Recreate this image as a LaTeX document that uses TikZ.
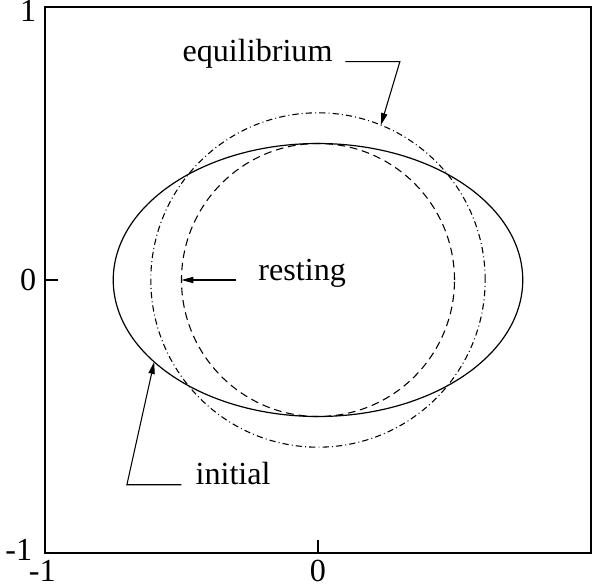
\documentclass[tikz,border=0pt]{standalone}
\usepackage{fontspec}
\setmainfont{Liberation Serif}
\usetikzlibrary{arrows.meta,positioning,calc}
\tikzset{
  frame/.style={draw=black,line width=.6pt},
  tick/.style={draw=black,line width=.5pt},
  ticklabel/.style={font=\fontsize{13.4}{15}\selectfont,inner sep=0pt},
  lbl/.style={font=\fontsize{13.4}{15}\selectfont,inner sep=0pt},
  initialcurve/.style={draw=black,line width=.5pt},
  restingcurve/.style={draw=black,line width=.45pt,dash pattern=on 3.2pt off 2pt},
  equilcurve/.style={draw=black,line width=.45pt,dash pattern=on 2.6pt off 1.3pt on .4pt off 1.3pt},
  pointer/.style={-{Triangle[length=5pt,width=2.6pt]},draw=black,line width=.45pt}
}
\begin{document}
\begin{tikzpicture}[x=4cm,y=4cm]
      \useasboundingbox (-1.1648,-1.1099) rectangle (1.0147,1.0256);
      % frame and ticks
      \draw[frame] (-1,-1) rectangle (1,1);
      \draw[tick] (-1,0) -- (-0.952,0);
      \draw[tick] (0,-1) -- (0,-0.952);
      \node[ticklabel,anchor=east] (ytop) at (-1.03,0.985) {1};
      \node[ticklabel,anchor=east] (ymid) at (-1.03,0) {0};
      \node[ticklabel,anchor=east] (ybot) at (-1.045,-0.99) {-1};
      \node[ticklabel,anchor=north] (xleft) at (-1.01,-1.025) {-1};
      \node[ticklabel,anchor=north] (xmid) at (0,-1.025) {0};
      % the three shapes
      \draw[initialcurve] (0,0) ellipse [x radius=0.75,y radius=0.5];
      \draw[restingcurve] (0,0) circle [radius=0.5];
      \draw[equilcurve] (0,0) circle [radius=0.6124];
      % labels with leaders
      \node[lbl,anchor=base east] (eqtext) at (0.055,0.8) {equilibrium};
      \coordinate (eqstart) at (0.1,0.8);
      \coordinate (eqbend) at (0.3,0.8);
      \coordinate (eqtip) at (67.9:0.6124);
      \draw[pointer] (eqstart) -- (eqbend) -- (eqtip);
      \node[lbl,anchor=base west] (resttext) at (-0.22,0) {resting};
      \coordinate (reststart) at (-0.3,0);
      \coordinate (resttip) at (-0.5,0);
      \draw[pointer] (reststart) -- (resttip);
      \node[lbl,anchor=base west] (inittext) at (-0.45,-0.75) {initial};
      \coordinate (initstart) at (-0.5,-0.75);
      \coordinate (initbend) at (-0.7,-0.75);
      \coordinate (inittip) at (-0.6,-0.3);
      \draw[pointer] (initstart) -- (initbend) -- (inittip);
    \end{tikzpicture}
\end{document}
